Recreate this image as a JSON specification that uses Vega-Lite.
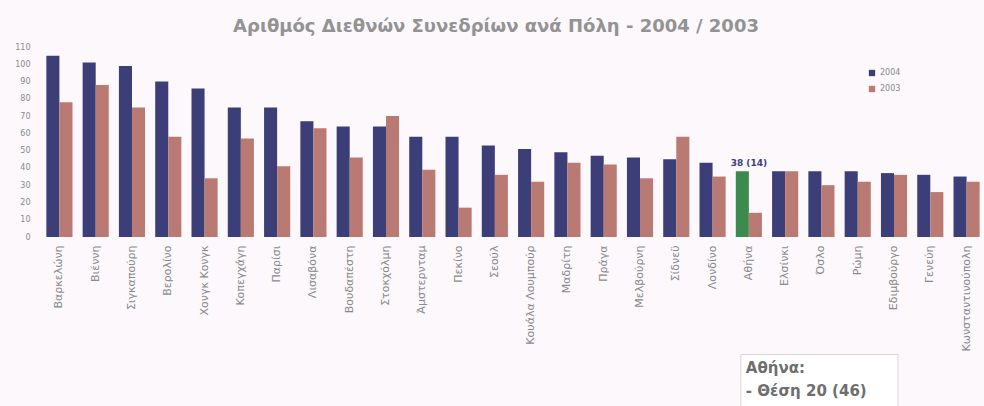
{
  "$schema": "https://vega.github.io/schema/vega-lite/v6.json",
  "autosize": {"type": "none"},
  "width": 942,
  "height": 190,
  "padding": {"left": 42, "top": 47, "right": 0, "bottom": 169},
  "background": "#fcf8fc",
  "config": {"view": {"stroke": null}, "font": "DejaVu Sans", "axisY": {"labelOverlap": false}},
  "title": {
    "text": "Αριθμός Διεθνών Συνεδρίων ανά Πόλη - 2004 / 2003",
    "fontSize": 18,
    "font": "DejaVu Sans",
    "fontWeight": "bold",
    "color": "#939393",
    "offset": 7,
    "dx": -17
  },
  "datasets": {
    "cities": [
      {"city": "Βαρκελώνη", "year": "2004", "value": 105}, {"city": "Βαρκελώνη", "year": "2003", "value": 78},
      {"city": "Βιέννη", "year": "2004", "value": 101}, {"city": "Βιέννη", "year": "2003", "value": 88},
      {"city": "Σιγκαπούρη", "year": "2004", "value": 99}, {"city": "Σιγκαπούρη", "year": "2003", "value": 75},
      {"city": "Βερολίνο", "year": "2004", "value": 90}, {"city": "Βερολίνο", "year": "2003", "value": 58},
      {"city": "Χονγκ Κονγκ", "year": "2004", "value": 86}, {"city": "Χονγκ Κονγκ", "year": "2003", "value": 34},
      {"city": "Κοπεγχάγη", "year": "2004", "value": 75}, {"city": "Κοπεγχάγη", "year": "2003", "value": 57},
      {"city": "Παρίσι", "year": "2004", "value": 75}, {"city": "Παρίσι", "year": "2003", "value": 41},
      {"city": "Λισαβόνα", "year": "2004", "value": 67}, {"city": "Λισαβόνα", "year": "2003", "value": 63},
      {"city": "Βουδαπέστη", "year": "2004", "value": 64}, {"city": "Βουδαπέστη", "year": "2003", "value": 46},
      {"city": "Στοκχόλμη", "year": "2004", "value": 64}, {"city": "Στοκχόλμη", "year": "2003", "value": 70},
      {"city": "Άμστερνταμ", "year": "2004", "value": 58}, {"city": "Άμστερνταμ", "year": "2003", "value": 39},
      {"city": "Πεκίνο", "year": "2004", "value": 58}, {"city": "Πεκίνο", "year": "2003", "value": 17},
      {"city": "Σεούλ", "year": "2004", "value": 53}, {"city": "Σεούλ", "year": "2003", "value": 36},
      {"city": "Κουάλα Λουμπούρ", "year": "2004", "value": 51}, {"city": "Κουάλα Λουμπούρ", "year": "2003", "value": 32},
      {"city": "Μαδρίτη", "year": "2004", "value": 49}, {"city": "Μαδρίτη", "year": "2003", "value": 43},
      {"city": "Πράγα", "year": "2004", "value": 47}, {"city": "Πράγα", "year": "2003", "value": 42},
      {"city": "Μελβούρνη", "year": "2004", "value": 46}, {"city": "Μελβούρνη", "year": "2003", "value": 34},
      {"city": "Σίδνεϋ", "year": "2004", "value": 45}, {"city": "Σίδνεϋ", "year": "2003", "value": 58},
      {"city": "Λονδίνο", "year": "2004", "value": 43}, {"city": "Λονδίνο", "year": "2003", "value": 35},
      {"city": "Αθήνα", "year": "2004", "value": 38}, {"city": "Αθήνα", "year": "2003", "value": 14},
      {"city": "Ελσίνκι", "year": "2004", "value": 38}, {"city": "Ελσίνκι", "year": "2003", "value": 38},
      {"city": "Όσλο", "year": "2004", "value": 38}, {"city": "Όσλο", "year": "2003", "value": 30},
      {"city": "Ρώμη", "year": "2004", "value": 38}, {"city": "Ρώμη", "year": "2003", "value": 32},
      {"city": "Εδιμβούργο", "year": "2004", "value": 37}, {"city": "Εδιμβούργο", "year": "2003", "value": 36},
      {"city": "Γενεύη", "year": "2004", "value": 36}, {"city": "Γενεύη", "year": "2003", "value": 26},
      {"city": "Κωνσταντινούπολη", "year": "2004", "value": 35}, {"city": "Κωνσταντινούπολη", "year": "2003", "value": 32}
    ],
    "notes": [
      {"city": "Αθήνα", "value": 38, "label": "38 (14)"}
    ]
  },
  "encoding": {
    "y": {
      "type": "quantitative",
      "scale": {"domain": [0, 110], "nice": false},
      "axis": {"title": null, "values": [0, 10, 20, 30, 40, 50, 60, 70, 80, 90, 100, 110], "labelOverlap": false, "grid": false, "domain": false, "ticks": false, "labelFontSize": 8, "labelColor": "#8a8a8a", "labelPadding": 12}
    }
  },
  "layer": [
    {
      "data": {"name": "cities"},
      "mark": {"type": "bar"},
      "encoding": {
        "x": {
          "field": "city", "type": "nominal", "sort": null,
          "scale": {"paddingInner": 0.28, "paddingOuter": 0.12},
          "axis": {"title": null, "labelAngle": -90, "labelFontSize": 11, "labelColor": "#8a8a8a", "ticks": false, "domain": false, "labelPadding": 8}
        },
        "xOffset": {"field": "year", "type": "nominal", "sort": ["2004", "2003"], "scale": {"paddingInner": 0}},
        "y": {
          "field": "value", "type": "quantitative",
          "scale": {"domain": [0, 110], "nice": false},
          "axis": {"title": null, "values": [0, 10, 20, 30, 40, 50, 60, 70, 80, 90, 100, 110], "labelOverlap": false, "grid": false, "domain": false, "ticks": false, "labelFontSize": 8, "labelColor": "#8a8a8a", "labelPadding": 12}
        },
        "color": {
          "condition": {"test": "datum.city === 'Αθήνα' && datum.year === '2004'", "value": "#3d8a4e"},
          "field": "year", "type": "nominal",
          "scale": {"domain": ["2004", "2003"], "range": ["#3c3e78", "#b97a74"]},
          "legend": {"title": null, "orient": "none", "legendX": 826, "legendY": 22, "symbolType": "square", "symbolSize": 40, "labelFontSize": 8, "labelColor": "#8a8a8a", "rowPadding": 8}
        }
      }
    },
    {
      "data": {"name": "notes"},
      "mark": {"type": "text", "dy": -8, "fontSize": 9, "fontWeight": "bold", "color": "#3c3e78"},
      "encoding": {
        "x": {"field": "city", "type": "nominal", "sort": null},
        "y": {"field": "value", "type": "quantitative"},
        "text": {"field": "label"}
      }
    },
    {
      "data": {"values": [{}]},
      "mark": {"type": "rect", "fill": "#ffffff", "stroke": "#d8d4d8", "strokeWidth": 1, "xOffset": -8, "x2Offset": 4},
      "encoding": {
        "x": {"datum": "Αθήνα"},
        "x2": {"datum": "Εδιμβούργο"},
        "y": {"datum": -68},
        "y2": {"datum": -104}
      }
    },
    {
      "data": {"values": [{}]},
      "mark": {"type": "text", "align": "left", "fontSize": 15, "fontWeight": "bold", "color": "#6e6e6e", "dx": -3},
      "encoding": {
        "x": {"datum": "Αθήνα"},
        "y": {"datum": -76},
        "text": {"datum": "Αθήνα:"}
      }
    },
    {
      "data": {"values": [{}]},
      "mark": {"type": "text", "align": "left", "fontSize": 15, "fontWeight": "bold", "color": "#6e6e6e", "dx": -3},
      "encoding": {
        "x": {"datum": "Αθήνα"},
        "y": {"datum": -89},
        "text": {"datum": "- Θέση 20 (46)"}
      }
    }
  ]
}
